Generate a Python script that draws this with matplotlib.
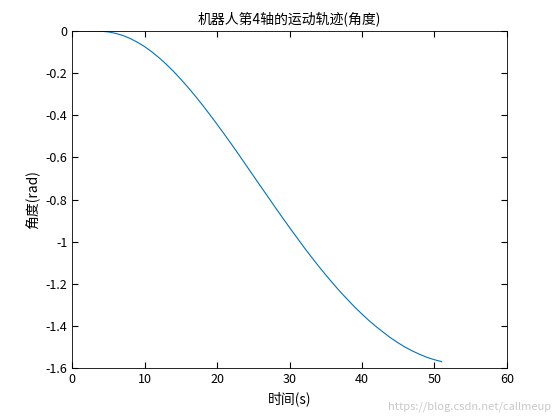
import numpy as np
import matplotlib
matplotlib.use("Agg")
import matplotlib.pyplot as plt

plt.rcParams['font.family'] = ['Noto Sans CJK SC', 'DejaVu Sans']

# values
t = [0, 2, 3, 4, 5, 6, 7, 8, 9, 10, 11, 12, 13, 14, 15, 16, 17, 18, 19, 20,
     21, 22, 23, 24, 25, 26, 27, 28, 29, 30, 31, 32, 33, 34, 35, 36, 37, 38,
     39, 40, 41, 42, 43, 44, 45, 46, 47, 48, 49, 50, 51]
angle = [0, 0, 0, -0.001, -0.004, -0.011, -0.021, -0.035, -0.053, -0.074,
         -0.099, -0.127, -0.158, -0.192, -0.229, -0.268, -0.309, -0.352,
         -0.397, -0.443, -0.490, -0.538, -0.587, -0.637, -0.687, -0.737,
         -0.786, -0.836, -0.885, -0.933, -0.980, -1.027, -1.072, -1.116,
         -1.158, -1.199, -1.238, -1.275, -1.311, -1.344, -1.376, -1.405,
         -1.432, -1.458, -1.481, -1.502, -1.520, -1.536, -1.550, -1.561, -1.570]

fig = plt.figure(figsize=(5.6, 4.2), dpi=100)
ax = fig.add_axes([0.129, 0.124, 0.776, 0.802])
ax.plot(t, angle, color=(0, 0.447, 0.741), linewidth=0.8)
ax.set_xlim(0, 60)
ax.set_ylim(-1.6, 0)
ax.set_xticks(range(0, 61, 10))
ax.set_yticks(np.arange(-1.6, 0.01, 0.2))
ax.set_yticklabels(["-1.6", "-1.4", "-1.2", "-1", "-0.8", "-0.6", "-0.4", "-0.2", "0"])
ax.tick_params(direction="in", labelsize=9, length=4, top=True, right=True,
               labeltop=False, labelright=False)
for s in ax.spines.values():
    s.set_linewidth(0.6)
ax.set_title("机器人第4轴的运动轨迹(角度)", fontsize=10)
ax.set_xlabel("时间(s)", fontsize=10)
ax.set_ylabel("角度(rad)", fontsize=10)
fig.text(0.985, 0.02, "https://blog.csdn.net/callmeup", ha="right", va="bottom",
         fontsize=8, color="#c8c8c8")
fig.savefig("out.png", dpi=100)
